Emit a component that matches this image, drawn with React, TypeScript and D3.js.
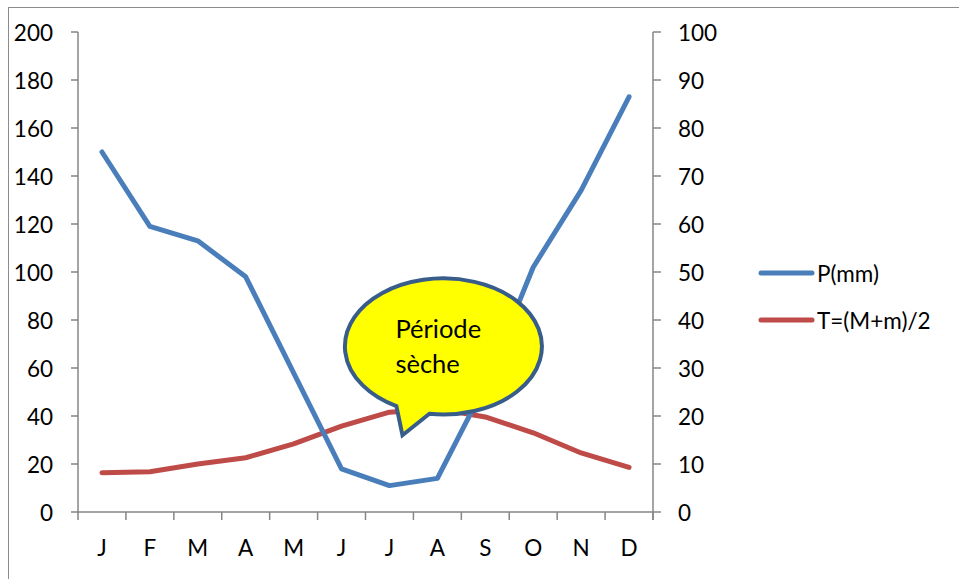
import React from "react";
import * as d3 from "d3";

const months = ["J", "F", "M", "A", "M", "J", "J", "A", "S", "O", "N", "D"];
const precip = [150, 119, 113, 98, 58, 18, 11, 14, 53, 102, 134, 173];
const temp = [8.2, 8.4, 10, 11.3, 14.2, 17.9, 20.8, 21.5, 19.8, 16.5, 12.3, 9.3];
const leftTicks = [0, 20, 40, 60, 80, 100, 120, 140, 160, 180, 200];
const rightTicks = [0, 10, 20, 30, 40, 50, 60, 70, 80, 90, 100];
const seriesNames = ["P(mm)", "T=(M+m)/2"];
const calloutLines = ["Période", "sèche"];

const W = 959;
const H = 579;
const FONT = "Lato, 'Open Sans', sans-serif";
const AXIS = "#868686";
const BLUE = "#4a7ebb";
const RED = "#be4b48";
const FS = 22.5;

export default function App() {
  const left = 78;
  const right = 653;
  const top = 32;
  const bottom = 512;

  const idx = months.map((_, i) => String(i));
  const x = d3.scaleBand<string>().domain(idx).range([left, right]).padding(0);
  const cx = (i: number) => (x(String(i)) as number) + x.bandwidth() / 2;
  const yL = d3.scaleLinear().domain([0, 200]).range([bottom, top]);
  const yR = d3.scaleLinear().domain([0, 100]).range([bottom, top]);

  const lineP = d3
    .line<number>()
    .x((_, i) => cx(i))
    .y((d) => yL(d));
  const lineT = d3
    .line<number>()
    .x((_, i) => cx(i))
    .y((d) => yR(d));

  // Callout geometry anchored in data space (between July and August)
  const ecx = (cx(6) + cx(7)) / 2 + 30;
  const ecy = yL(69);
  const rx = 98.5;
  const ry = 68;
  const pt = (dx: number) => {
    const dy = ry * Math.sqrt(1 - (dx / rx) * (dx / rx));
    return [ecx + dx, ecy + dy];
  };
  const [b1x, b1y] = pt(-47);
  const [b2x, b2y] = pt(-14);
  const tipX = cx(6) + 13;
  const tipY = yL(32);
  const calloutPath = `M${b1x},${b1y} A${rx},${ry} 0 1 1 ${b2x},${b2y} L${tipX},${tipY} Z`;

  const bounds = [...idx.map((k) => x(k) as number), right];

  return (
    <svg width={W} height={H} style={{ position: "absolute", left: 0, top: 0 }}>
      <rect x={0} y={0} width={W} height={H} fill="#fff" />
      <rect x={8.5} y={7.5} width={W + 10} height={H + 10} fill="none" stroke="#8c8c8c" strokeWidth={1} />

      {/* Left axis */}
      <line x1={left} x2={left} y1={top} y2={bottom + 1} stroke={AXIS} strokeWidth={1.5} />
      {leftTicks.map((t) => (
        <g key={"l" + t}>
          <line x1={left - 7} x2={left} y1={yL(t)} y2={yL(t)} stroke={AXIS} strokeWidth={1.5} />
          <text x={53} y={yL(t)} textAnchor="end" dominantBaseline="central" fontFamily={FONT} fontSize={FS} fill="#000">
            {t}
          </text>
        </g>
      ))}

      {/* Right axis */}
      <line x1={right} x2={right} y1={top} y2={bottom + 8} stroke={AXIS} strokeWidth={1.5} />
      {rightTicks.map((t) => (
        <g key={"r" + t}>
          <line x1={right} x2={right + 8} y1={yR(t)} y2={yR(t)} stroke={AXIS} strokeWidth={1.5} />
          <text x={678} y={yR(t)} textAnchor="start" dominantBaseline="central" fontFamily={FONT} fontSize={FS} fill="#000">
            {t}
          </text>
        </g>
      ))}

      {/* Bottom axis */}
      <line x1={left} x2={right} y1={bottom} y2={bottom} stroke={AXIS} strokeWidth={1.5} />
      {bounds.map((b, i) => (
        <line key={"b" + i} x1={b} x2={b} y1={bottom} y2={bottom + 8} stroke={AXIS} strokeWidth={1.5} />
      ))}
      {months.map((m, i) => (
        <text key={"m" + i} x={cx(i)} y={547} textAnchor="middle" dominantBaseline="central" fontFamily={FONT} fontSize={FS} fill="#000">
          {m}
        </text>
      ))}

      {/* Series */}
      <path d={lineT(temp) || ""} fill="none" stroke={RED} strokeWidth={5} strokeLinecap="round" strokeLinejoin="round" />
      <path d={lineP(precip) || ""} fill="none" stroke={BLUE} strokeWidth={5} strokeLinecap="round" strokeLinejoin="round" />

      {/* Callout */}
      <path d={calloutPath} fill="#ffff00" stroke="#385d8a" strokeWidth={4} strokeLinejoin="miter" />
      {calloutLines.map((s, i) => (
        <text key={"c" + i} x={ecx - 48} y={ecy - 18 + i * 35} dominantBaseline="central" fontFamily={FONT} fontSize={25.5} fill="#000">
          {s}
        </text>
      ))}

      {/* Legend */}
      {seriesNames.map((s, i) => (
        <g key={"lg" + i}>
          <line x1={761} x2={812} y1={273 + i * 47} y2={273 + i * 47} stroke={i === 0 ? BLUE : RED} strokeWidth={5} strokeLinecap="round" />
          <text x={817} y={273 + i * 47} dominantBaseline="central" fontFamily={FONT} fontSize={FS} fill="#000">
            {s}
          </text>
        </g>
      ))}
    </svg>
  );
}
